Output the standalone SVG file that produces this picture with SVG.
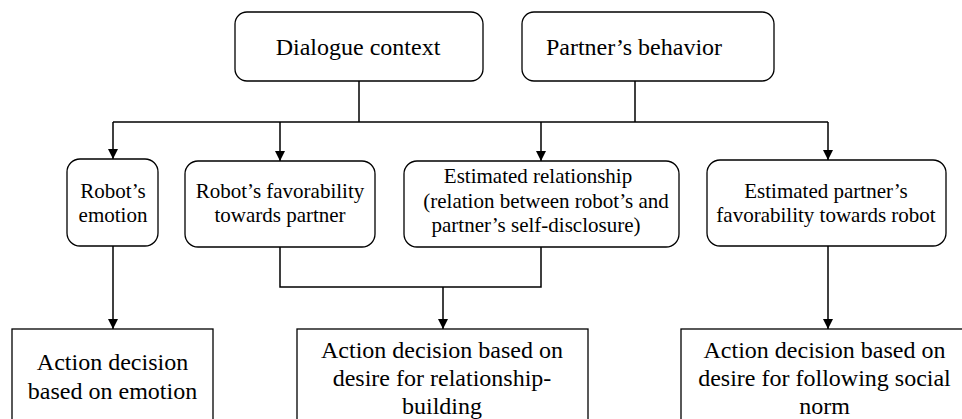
<svg xmlns="http://www.w3.org/2000/svg" width="962" height="419" viewBox="0 0 962 419">
  <defs>
    <marker id="arrow" markerUnits="userSpaceOnUse" markerWidth="10" markerHeight="10" refX="10" refY="5" orient="auto">
      <path d="M0,0 L10,5 L0,10 Z" fill="#000"/>
    </marker>
    <style>
      .box { fill: #fff; stroke: #000; stroke-width: 1.3; }
      .conn { fill: none; stroke: #000; stroke-width: 1.5; }
      text { font-family: "Liberation Serif", "Times New Roman", serif; fill: #000; text-anchor: middle; }
      .top, .bot { font-size: 24px; }
      .mid { font-size: 21px; }
    </style>
  </defs>
  <rect width="962" height="419" fill="#fff"/>

  <!-- connectors -->
  <g id="connectors">
    <path class="conn" d="M359,81 V122"/>
    <path class="conn" d="M635,81 V122"/>
    <path class="conn" d="M113,122 H828"/>
    <path class="conn" d="M113,122 V159" marker-end="url(#arrow)"/>
    <path class="conn" d="M280,122 V161" marker-end="url(#arrow)"/>
    <path class="conn" d="M541,122 V161" marker-end="url(#arrow)"/>
    <path class="conn" d="M828,122 V160" marker-end="url(#arrow)"/>
    <path class="conn" d="M113,246 V329" marker-end="url(#arrow)"/>
    <path class="conn" d="M280,247 V287 H541 V247"/>
    <path class="conn" d="M443,287 V329" marker-end="url(#arrow)"/>
    <path class="conn" d="M828,246 V329" marker-end="url(#arrow)"/>
  </g>

  <!-- inputs -->
  <g id="dialogue-context">
    <rect class="box" x="235" y="12" width="248" height="69" rx="12"/>
    <text class="top" x="358" y="55">Dialogue context</text>
  </g>
  <g id="partner-behavior">
    <rect class="box" x="522" y="12" width="252" height="69" rx="12"/>
    <text class="top" x="634" y="55">Partner’s behavior</text>
  </g>

  <!-- internal states -->
  <g id="robot-emotion">
    <rect class="box" x="67" y="159" width="91" height="87" rx="13"/>
    <text class="mid" x="113" y="198">Robot’s</text>
    <text class="mid" x="113" y="222">emotion</text>
  </g>
  <g id="robot-favorability">
    <rect class="box" x="185" y="161" width="190" height="86" rx="13"/>
    <text class="mid" x="280" y="198">Robot’s favorability</text>
    <text class="mid" x="280" y="222">towards partner</text>
  </g>
  <g id="estimated-relationship">
    <rect class="box" x="404" y="161" width="275" height="86" rx="13"/>
    <text class="mid" x="538" y="183">Estimated relationship</text>
    <text class="mid" x="546" y="208">(relation between robot’s and</text>
    <text class="mid" x="536" y="232">partner’s self-disclosure)</text>
  </g>
  <g id="partner-favorability">
    <rect class="box" x="707" y="160" width="239" height="86" rx="13"/>
    <text class="mid" x="826" y="198">Estimated partner’s</text>
    <text class="mid" x="826" y="222">favorability towards robot</text>
  </g>

  <!-- action decisions -->
  <g id="action-emotion">
    <rect class="box" x="12" y="329" width="201" height="110"/>
    <text class="bot" x="112.5" y="370">Action decision</text>
    <text class="bot" x="112.5" y="399">based on emotion</text>
  </g>
  <g id="action-relationship">
    <rect class="box" x="297" y="329" width="291" height="110"/>
    <text class="bot" x="442" y="358">Action decision based on</text>
    <text class="bot" x="442" y="386">desire for relationship-</text>
    <text class="bot" x="442" y="414">building</text>
  </g>
  <g id="action-social-norm">
    <rect class="box" x="681" y="329" width="287" height="110"/>
    <text class="bot" x="824.5" y="358">Action decision based on</text>
    <text class="bot" x="824.5" y="386">desire for following social</text>
    <text class="bot" x="824.5" y="414">norm</text>
  </g>
</svg>
